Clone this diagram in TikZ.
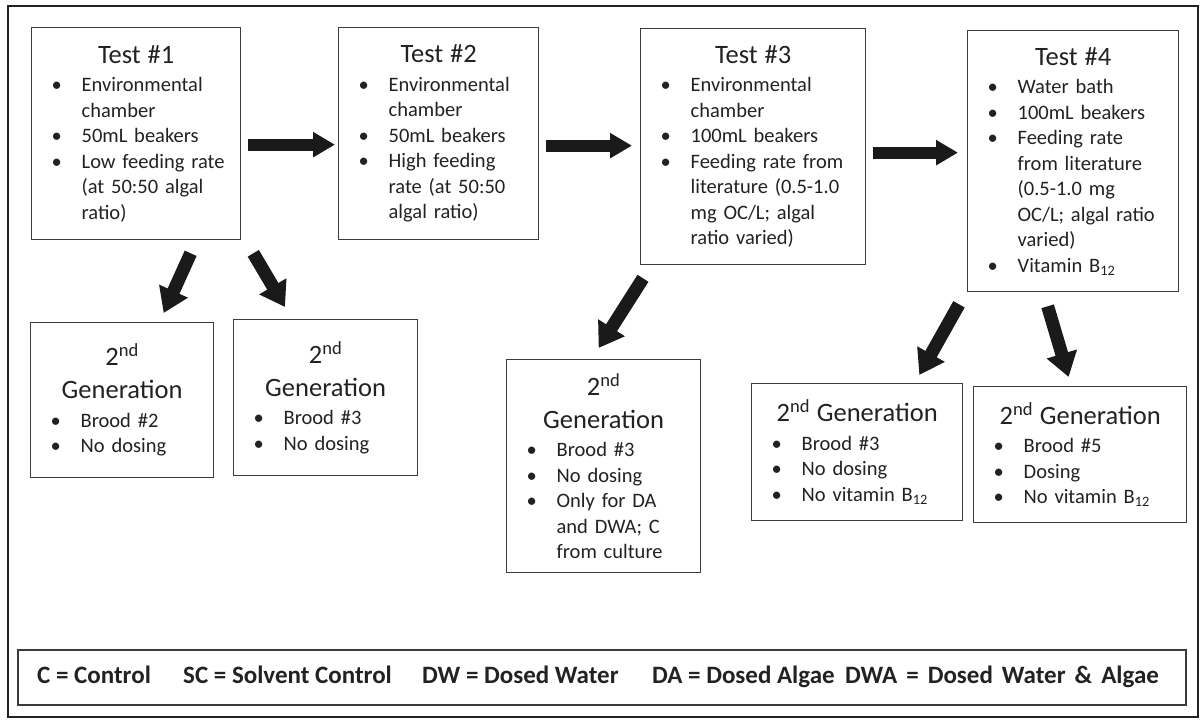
\documentclass[tikz,border=0pt]{standalone}
\usepackage{fontspec}
\setmainfont{Carlito}
\usetikzlibrary{arrows.meta,calc}
\definecolor{ink}{HTML}{222222}
\definecolor{boxline}{HTML}{3C3C3C}
\definecolor{arrowfill}{HTML}{1A1A1A}
\newcommand\ttl[1]{{\centering\fontsize{26.5}{33}\selectfont #1\par}\vspace{3pt}}
\newcommand\bitem[1]{\par\leftskip=50pt\rightskip=-80pt plus 1fil\parindent=0pt\noindent\llap{\makebox[30pt][l]{\textbullet}}#1\par}
\begin{document}
\begin{tikzpicture}[x=1pt,y=-1pt,
  every node/.style={text=ink},
  box/.style={draw=boxline, line width=1.3pt, inner xsep=0pt, inner ysep=0pt,
    align=left, anchor=north west, font=\fontsize{20.5}{25.5}\selectfont},
  harrow/.style={draw=arrowfill, line width=12pt,
    -{Triangle[length=22pt,width=24pt]}},
  darrow/.style={draw=arrowfill, line width=13pt,
    -{Triangle[length=24pt,width=30pt]}},
  legtext/.style={anchor=base west, inner sep=0pt, font=\fontsize{25}{30}\selectfont\bfseries}
]
\useasboundingbox (0,0) rectangle (1203,720);
\fill[white] (0,0) rectangle (1203,720);
\draw[line width=2.6pt, draw=ink] (8,6) rectangle (1198,717);

% Test boxes
\node[box, text width=209pt, minimum height=212pt] (t1) at (31,27) {%
  \ttl{Test \#1}
  \bitem{Environmental\\chamber}
  \bitem{50mL beakers}
  \bitem{Low feeding rate\\(at 50:50 algal\\ratio)}};
\node[box, text width=200pt, minimum height=212pt] (t2) at (338,27) {%
  \ttl{Test \#2}
  \bitem{Environmental\\chamber}
  \bitem{50mL beakers}
  \bitem{High feeding\\rate (at 50:50\\algal ratio)}};
\node[box, text width=225pt, minimum height=236pt] (t3) at (640,28) {%
  \ttl{Test \#3}
  \bitem{Environmental\\chamber}
  \bitem{100mL beakers}
  \bitem{Feeding rate from\\literature (0.5-1.0\\mg OC/L; algal\\ratio varied)}};
\node[box, text width=211pt, minimum height=261pt] (t4) at (967,30) {%
  \ttl{Test \#4}
  \bitem{Water bath}
  \bitem{100mL beakers}
  \bitem{Feeding rate\\from literature\\(0.5-1.0 mg\\OC/L; algal ratio\\varied)}
  \bitem{Vitamin B\textsubscript{12}}};

% Second generation boxes
\node[box, text width=183pt, minimum height=155pt] (g1) at (30,322) {%
  \ttl{2\textsuperscript{nd}\\Generation}
  \bitem{Brood \#2}
  \bitem{No dosing}};
\node[box, text width=184pt, minimum height=156pt] (g2) at (233,319) {%
  \ttl{2\textsuperscript{nd}\\Generation}
  \bitem{Brood \#3}
  \bitem{No dosing}};
\node[box, text width=194pt, minimum height=213pt] (g3) at (506,359) {%
  \ttl{2\textsuperscript{nd}\\Generation}
  \bitem{Brood \#3}
  \bitem{No dosing}
  \bitem{Only for DA\\and DWA; C\\from culture}};
\node[box, text width=211pt, minimum height=137pt] (g4) at (751,383) {%
  \ttl{2\textsuperscript{nd} Generation}
  \bitem{Brood \#3}
  \bitem{No dosing}
  \bitem{No vitamin B\textsubscript{12}}};
\node[box, text width=213pt, minimum height=136pt] (g5) at (973,386) {%
  \ttl{2\textsuperscript{nd} Generation}
  \bitem{Brood \#5}
  \bitem{Dosing}
  \bitem{No vitamin B\textsubscript{12}}};

% Legend
\node[draw=boxline, line width=1.6pt, anchor=north west, minimum width=1168pt,
  minimum height=55pt, inner sep=0pt] (leg) at (17,649) {};
\node[legtext] (l1) at (37,683) {C = Control};
\node[legtext] (l2) at (183,683) {SC = Solvent Control};
\node[legtext] (l3) at (422,683) {DW = Dosed Water};
\node[legtext] (l4) at (652,683) {DA = Dosed Algae};
\node[legtext] (l5) at (845,683) {\spaceskip=0.36em DWA = Dosed Water \& Algae};

% Horizontal arrows
\draw[harrow] ($(t1.east)+(7,11)$) -- ($(t2.west)+(-3,11)$);
\draw[harrow] ($(t2.east)+(7,12)$) -- ($(t3.west)+(-8,-1)$);
\draw[harrow] ($(t3.east)+(7,6)$) -- ($(t4.west)+(-9,-8.5)$);

% Diagonal arrows
\draw[darrow] ($(t1.south)+(54.5,13)$) -- ($(g1.north)+(41.5,-9)$);
\draw[darrow] ($(t1.south east)+(12,13)$) -- ($(g2.north west)+(52,-12)$);
\draw[darrow] ($(t3.south west)+(3,13)$) -- ($(g3.north)+(-5,-11)$);
\draw[darrow] ($(t4.south west)+(-8,12)$) -- ($(g4.north east)+(-44,-8)$);
\draw[darrow] ($(t4.south)+(-25.5,14)$) -- ($(g5.north)+(-11.5,-9)$);
\end{tikzpicture}
\end{document}
